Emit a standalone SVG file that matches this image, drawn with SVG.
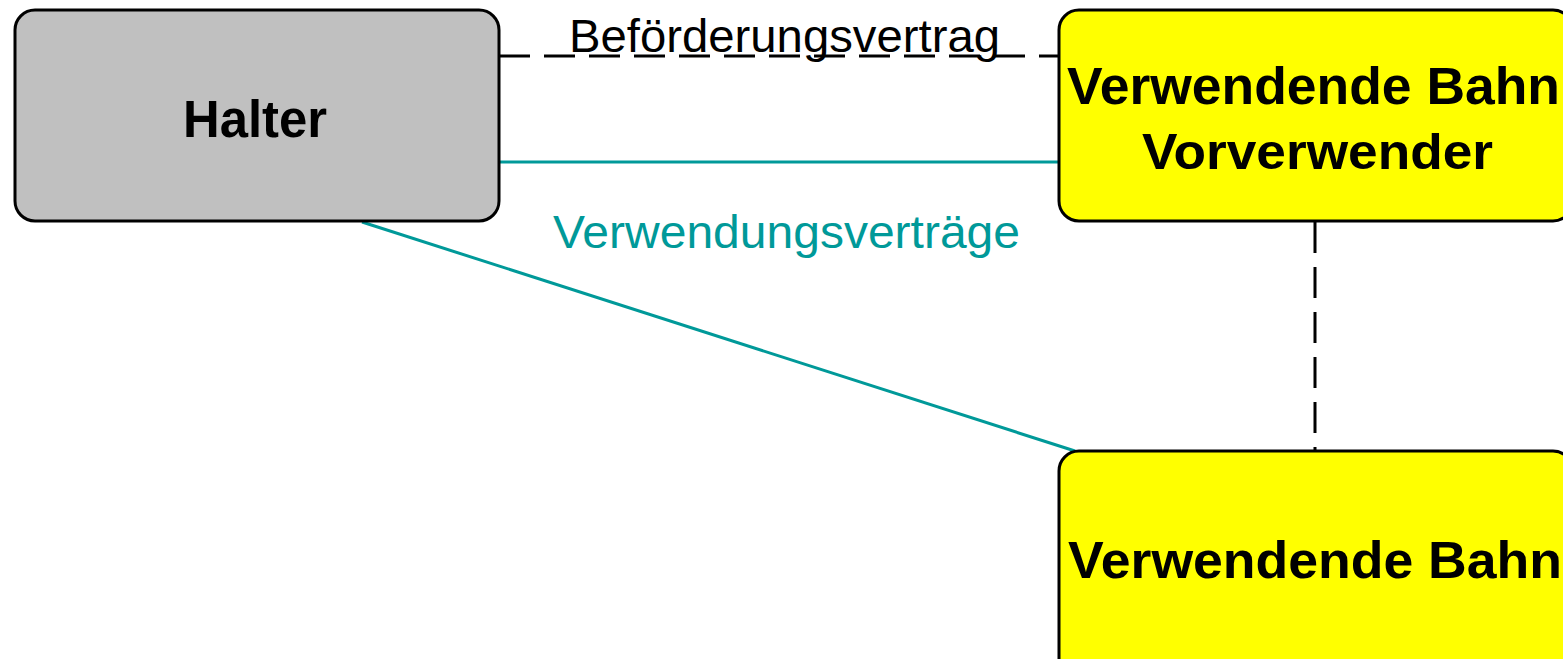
<svg xmlns="http://www.w3.org/2000/svg" width="1563" height="659" viewBox="0 0 1563 659">
  <style>
    .box { stroke: #000000; stroke-width: 3; }
    .halter { fill: #C0C0C0; }
    .bahn { fill: #FFFF00; }
    .node-label { font-family: "Liberation Sans", Arial, sans-serif; font-weight: bold; fill: #000000; }
    .dash { fill: none; stroke: #000000; stroke-width: 3; stroke-dasharray: 31 14; }
    .teal { fill: none; stroke: #009999; stroke-width: 3; }
    .edge-label { font-family: "Liberation Sans", Arial, sans-serif; }
  </style>
  <rect width="1563" height="659" fill="#FFFFFF"/>

  <!-- connectors -->
  <g id="connectors">
    <line class="dash" x1="499" y1="56" x2="1059" y2="56"/>
    <line class="teal" x1="499" y1="162" x2="1059" y2="162"/>
    <line class="teal" x1="362" y1="222" x2="1075" y2="451"/>
    <line class="dash" x1="1315" y1="222" x2="1315" y2="451"/>
    <text class="edge-label" x="569" y="52" font-size="46" textLength="431" lengthAdjust="spacingAndGlyphs" fill="#000000">Beförderungsvertrag</text>
    <text class="edge-label" x="553" y="248" font-size="47" textLength="467" lengthAdjust="spacingAndGlyphs" fill="#009999">Verwendungsverträge</text>
  </g>

  <!-- Halter -->
  <g id="halter">
    <rect class="box halter" x="15" y="10" width="484" height="211" rx="20" ry="20"/>
    <text class="node-label" x="183" y="137" font-size="51" textLength="144" lengthAdjust="spacingAndGlyphs">Halter</text>
  </g>

  <!-- Verwendende Bahn / Vorverwender -->
  <g id="vorverwender">
    <rect class="box bahn" x="1059" y="10" width="514" height="211" rx="20" ry="20"/>
    <text class="node-label" x="1067" y="104" font-size="51" textLength="493" lengthAdjust="spacingAndGlyphs">Verwendende Bahn</text>
    <text class="node-label" x="1142" y="169" font-size="50" textLength="351" lengthAdjust="spacingAndGlyphs">Vorverwender</text>
  </g>

  <!-- Verwendende Bahn -->
  <g id="verwendende-bahn">
    <rect class="box bahn" x="1059" y="451" width="514" height="230" rx="20" ry="20"/>
    <text class="node-label" x="1068" y="578" font-size="52" textLength="494" lengthAdjust="spacingAndGlyphs">Verwendende Bahn</text>
  </g>
</svg>
